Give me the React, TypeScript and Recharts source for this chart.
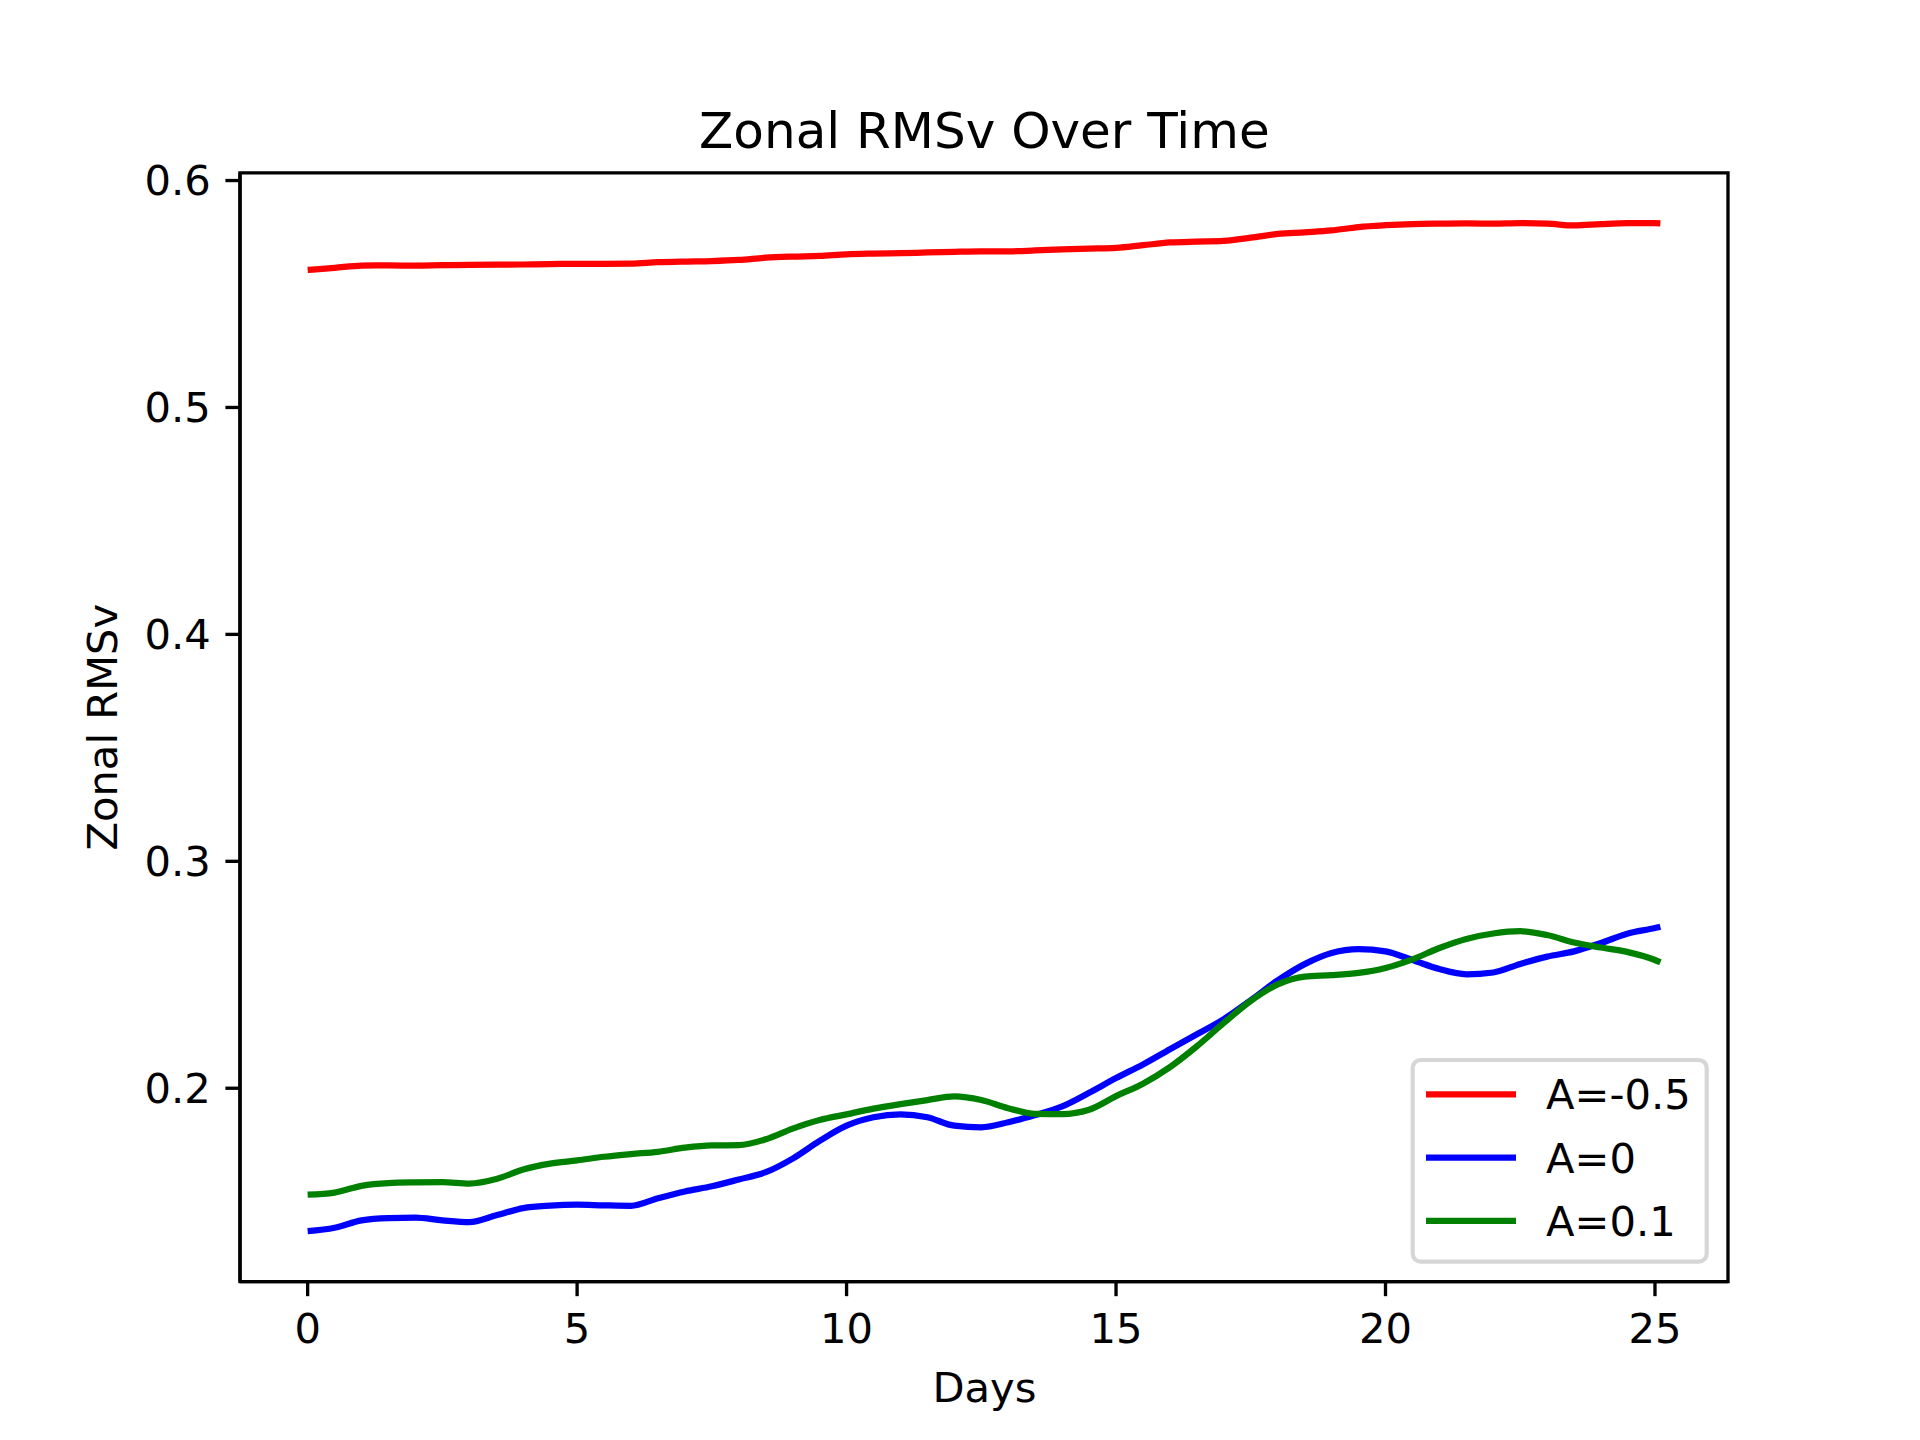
import { LineChart, Line, XAxis, YAxis, ReferenceArea } from "recharts";

// sampled every half day, last point at 25.1
const days = [
  0, 0.5, 1, 1.5, 2, 2.5, 3, 3.5, 4, 4.5, 5, 5.5, 6, 6.5, 7, 7.5, 8, 8.5, 9, 9.5,
  10, 10.5, 11, 11.5, 12, 12.5, 13, 13.5, 14, 14.5, 15, 15.5, 16, 16.5, 17, 17.5,
  18, 18.5, 19, 19.5, 20, 20.5, 21, 21.5, 22, 22.5, 23, 23.5, 24, 24.5, 25, 25.1,
];

const rmsNeg05 = [
  0.5606, 0.5615, 0.5625, 0.5626, 0.5625, 0.5627, 0.5628, 0.5629, 0.563, 0.5632,
  0.5633, 0.5633, 0.5634, 0.564, 0.5643, 0.5645, 0.565, 0.566, 0.5665, 0.5668,
  0.5675, 0.5678, 0.568, 0.5683, 0.5686, 0.5688, 0.5688, 0.5692, 0.5697, 0.57,
  0.5703, 0.5715, 0.5727, 0.5731, 0.5734, 0.5748, 0.5765, 0.5772, 0.578, 0.5795,
  0.5803, 0.5808, 0.581, 0.5811, 0.581, 0.5812, 0.581, 0.5802, 0.5808, 0.5812,
  0.5812, 0.5811,
];

const rmsZero = [
  0.137, 0.1385, 0.1418, 0.1428, 0.143, 0.1418, 0.141, 0.144, 0.1472, 0.1483,
  0.1487, 0.1484, 0.1482, 0.1515, 0.1545, 0.1568, 0.1598, 0.163, 0.169, 0.1768,
  0.1835, 0.1872, 0.1885, 0.1872, 0.1835, 0.1828, 0.185, 0.1882, 0.192, 0.198,
  0.2045, 0.2105, 0.2172, 0.2238, 0.2305, 0.2388, 0.2475, 0.2547, 0.2596, 0.2613,
  0.2603, 0.2565, 0.2525, 0.2502, 0.251, 0.2548, 0.258, 0.2603, 0.264, 0.2682,
  0.2706, 0.2712,
];

const rmsPos01 = [
  0.1531, 0.154, 0.157, 0.1582, 0.1585, 0.1586, 0.158, 0.16, 0.1642, 0.1668,
  0.1682, 0.1698, 0.171, 0.172, 0.1738, 0.1748, 0.1749, 0.1775, 0.1822, 0.186,
  0.1885, 0.191, 0.193, 0.1948, 0.1964, 0.1948, 0.1912, 0.1887, 0.1886, 0.1905,
  0.1965, 0.202, 0.2093, 0.2185, 0.2288, 0.2385, 0.2458, 0.2492, 0.2498, 0.2508,
  0.253, 0.2568, 0.2618, 0.2658, 0.2682, 0.2692, 0.2675, 0.2642, 0.262, 0.26,
  0.2565, 0.2555,
];

const seriesNames = ["A=-0.5", "A=0", "A=0.1"];
const seriesColors = ["#ff0000", "#0000ff", "#008000"];
const seriesKeys = ["neg", "zero", "pos"];

const xTicks = [0, 5, 10, 15, 20, 25];
const yTicks = [0.2, 0.3, 0.4, 0.5, 0.6];

const data = days.map((d, i) => ({
  day: d,
  neg: rmsNeg05[i],
  zero: rmsZero[i],
  pos: rmsPos01[i],
}));

// matplotlib style 5% padding around the data range
function padded(vals: number[]): [number, number] {
  const lo = Math.min(...vals);
  const hi = Math.max(...vals);
  const m = (hi - lo) * 0.05;
  return [lo - m, hi + m];
}

const xDomain = padded(days);
const yDomain = padded([...rmsNeg05, ...rmsZero, ...rmsPos01]);

const FONT = "'DejaVu Sans', sans-serif";
const PT = 300 / 72;

export default function App() {
  const tick = { fill: "#000", fontSize: 10 * PT, fontFamily: FONT };
  return (
    <div style={{ position: "absolute", left: 0, top: 0, width: 1920, height: 1440, background: "#fff" }}>
      <LineChart
        width={1920}
        height={1440}
        data={data}
        margin={{ top: 172.8, right: 192, bottom: 0, left: 0 }}
      >
        <XAxis
          dataKey="day"
          type="number"
          domain={xDomain}
          ticks={xTicks}
          allowDataOverflow
          height={158.4}
          tick={tick}
          tickSize={3.5 * PT}
          tickMargin={17}
          tickLine={{ stroke: "#000", strokeWidth: 0.8 * PT }}
          axisLine={{ stroke: "#000", strokeWidth: 0.8 * PT }}
        />
        <YAxis
          type="number"
          domain={yDomain}
          ticks={yTicks}
          allowDataOverflow
          width={240}
          tick={tick}
          tickSize={3.5 * PT}
          tickMargin={3.5 * PT}
          tickFormatter={(v: number) => v.toFixed(1)}
          tickLine={{ stroke: "#000", strokeWidth: 0.8 * PT }}
          axisLine={{ stroke: "#000", strokeWidth: 0.8 * PT }}
        />
        {seriesKeys.map((k, i) => (
          <Line
            key={k}
            dataKey={k}
            name={seriesNames[i]}
            type="monotone"
            stroke={seriesColors[i]}
            strokeWidth={1.5 * PT}
            dot={false}
            isAnimationActive={false}
          />
        ))}
        <ReferenceArea
          x1={xDomain[0]}
          x2={xDomain[1]}
          y1={yDomain[0]}
          y2={yDomain[1]}
          fill="none"
          stroke="#000"
          strokeWidth={0.8 * PT}
          ifOverflow="visible"
        />
      </LineChart>
      <svg
        width={1920}
        height={1440}
        style={{ position: "absolute", left: 0, top: 0, pointerEvents: "none" }}
        fontFamily={FONT}
      >
        <text x={984.4} y={147.8} textAnchor="middle" fontSize={12 * PT} fill="#000">
          Zonal RMSv Over Time
        </text>
        <text x={984.4} y={1402} textAnchor="middle" fontSize={10 * PT} fill="#000">
          Days
        </text>
        <text
          transform="translate(116.5,727.2) rotate(-90)"
          textAnchor="middle"
          fontSize={10 * PT}
          fill="#000"
        >
          Zonal RMSv
        </text>
        <rect
          x={1412.7}
          y={1060}
          width={294}
          height={201.7}
          rx={8}
          fill="#fff"
          fillOpacity={0.8}
          stroke="#cccccc"
          strokeOpacity={0.8}
          strokeWidth={1 * PT}
        />
        {seriesNames.map((n, i) => (
          <g key={n}>
            <line
              x1={1426}
              x2={1516}
              y1={1094.3 + i * 63.3}
              y2={1094.3 + i * 63.3}
              stroke={seriesColors[i]}
              strokeWidth={1.5 * PT}
            />
            <text x={1546} y={1109.3 + i * 63.3} fontSize={10 * PT} fill="#000">
              {n}
            </text>
          </g>
        ))}
      </svg>
    </div>
  );
}
